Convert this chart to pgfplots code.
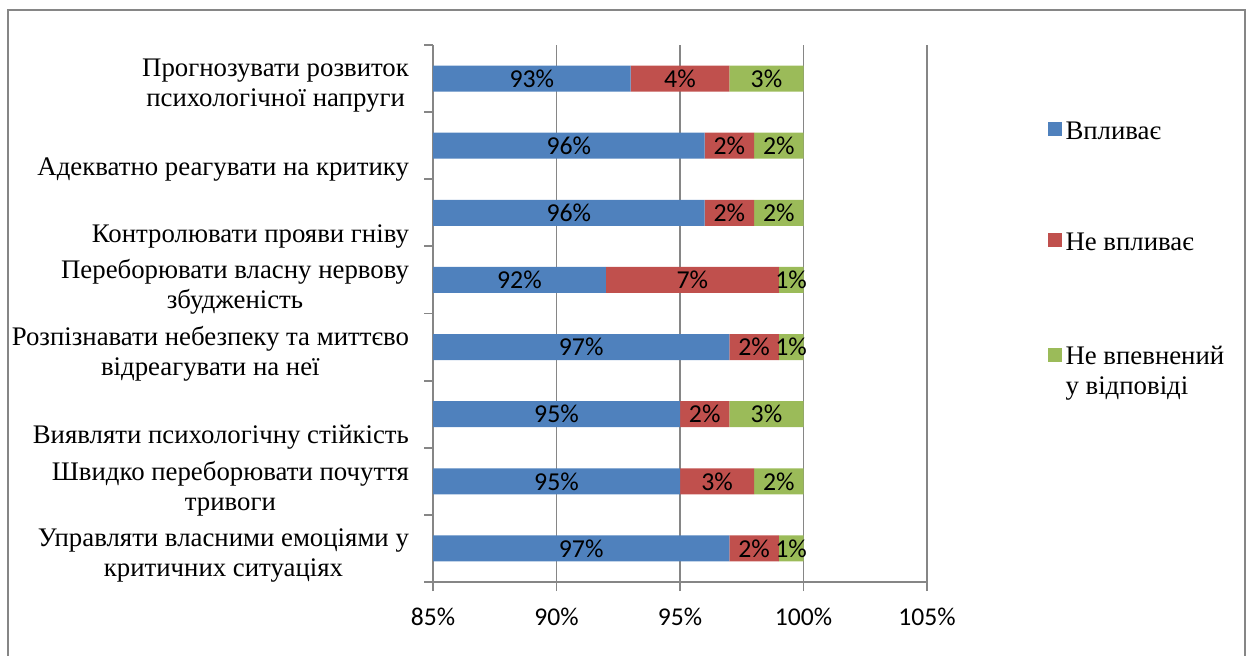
\documentclass[border=0pt]{standalone}
\usepackage{pgfplots}
\pgfplotsset{compat=1.18}
\usepackage{pgfplotstable}
\usepackage{fontspec}
\setmainfont{Liberation Serif}
\newfontfamily\calibri{Carlito}
\definecolor{cblue}{RGB}{79,129,189}
\definecolor{cred}{RGB}{192,80,77}
\definecolor{cgreen}{RGB}{155,187,89}
\definecolor{cgrid}{RGB}{134,134,134}
\pgfplotstableread{
idx a b c
0 97 2 1
1 95 3 2
2 95 2 3
3 97 2 1
4 92 7 1
5 96 2 2
6 96 2 2
7 93 4 3
}\datatable
\begin{document}
\begin{tikzpicture}
\useasboundingbox (0,0) rectangle (625.5pt,-327.5pt);
\draw[cgrid, line width=0.8pt] (4pt,-335pt) -- (4pt,-5pt) -- (622.5pt,-5pt) -- (622.5pt,-335pt);
\begin{axis}[
  at={(216.5pt,-291pt)}, anchor=south west,
  scale only axis, width=247pt, height=268.5pt,
  xbar stacked, bar width=13pt,
  xmin=85, xmax=105, ymin=-0.5, ymax=7.5,
  xtick={85,90,95,100,105},
  xticklabels={85\%,90\%,95\%,100\%,105\%},
  xticklabel style={font=\calibri\fontsize{12.8}{14}\selectfont, yshift=-5pt},
  ytick={-0.5,0.5,...,7.5},
  yticklabels={},
  extra y ticks={0,...,7},
  extra y tick labels={
    {Управляти власними емоціями у\\критичних ситуаціях},
    {Швидко переборювати почуття\\тривоги},
    {\strut\\Виявляти психологічну стійкість},
    {Розпізнавати небезпеку та миттєво\\відреагувати на неї},
    {Переборювати власну нервову\\збудженість},
    {\strut\\Контролювати прояви гніву},
    {\strut\\Адекватно реагувати на критику},
    {Прогнозувати розвиток\\психологічної напруги}},
  extra y tick style={tick style={draw=none}},
  yticklabel style={font=\fontsize{13.4}{15}\selectfont, align=center, yshift=-3.5pt, xshift=-4pt},
  axis x line*=bottom, axis y line*=left,
  axis line style={cgrid, line width=0.9pt},
  xmajorgrids, major grid style={cgrid, line width=0.9pt},
  tick align=outside,
  major tick length=4.5pt,
  tick style={draw=cgrid, line width=0.9pt},
  legend style={at={(1.231,0.873)}, anchor=north west, draw=none, fill=none,
    font=\fontsize{13.4}{15}\selectfont, row sep=41.3pt, cells={anchor=base west}},
  legend image code/.code={\fill[#1,draw=none] (0pt,1.5pt) rectangle (7pt,8.5pt);},
]
\addplot[fill=cblue, draw=none] table[x=a, y=idx] {\datatable};
\addlegendentry{Впливає}
\addplot[fill=cred, draw=none] table[x=b, y=idx] {\datatable};
\addlegendentry{Не впливає}
\addplot[fill=cgreen, draw=none] table[x=c, y=idx] {\datatable};
\addlegendentry{\begin{tabular}[t]{@{}l@{}}Не впевнений\\у відповіді\end{tabular}}
\end{axis}
\begin{axis}[
  at={(216.5pt,-291pt)}, anchor=south west,
  scale only axis, width=247pt, height=268.5pt,
  xmin=85, xmax=105, ymin=-0.5, ymax=7.5,
  hide axis, clip=false,
  nodes near coords={\pgfplotspointmeta\%},
  point meta=explicit symbolic,
  every node near coord/.append style={anchor=center, inner sep=0pt, font=\calibri\fontsize{12.9}{14}\selectfont, text=black},
]
\addplot[draw=none, mark=none] table[x expr=(85+\thisrow{a})/2, y=idx, meta=a] {\datatable};
\addplot[draw=none, mark=none] table[x expr=\thisrow{a}+\thisrow{b}/2, y=idx, meta=b] {\datatable};
\addplot[draw=none, mark=none] table[x expr=\thisrow{a}+\thisrow{b}+\thisrow{c}/2, y=idx, meta=c] {\datatable};
\end{axis}
\end{tikzpicture}
\end{document}
